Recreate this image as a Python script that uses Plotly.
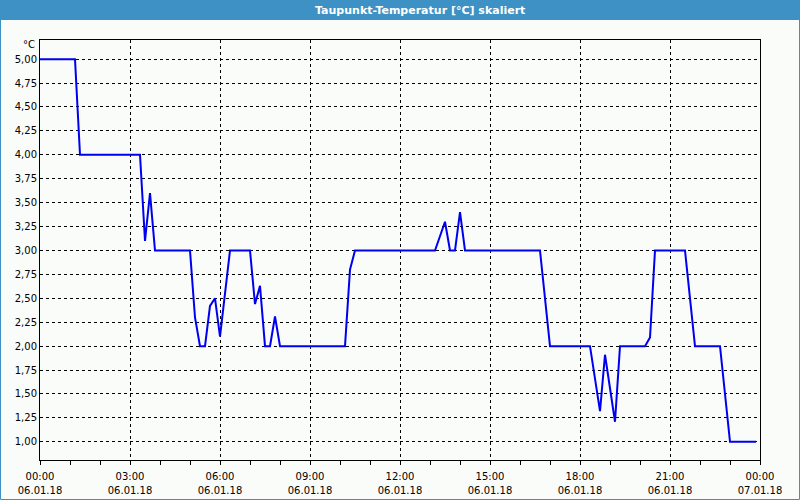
import plotly.graph_objects as go

# ---- data ----
times = ["00:00", "01:10", "01:20", "03:20", "03:30", "03:40", "03:50",
         "05:00", "05:10", "05:20", "05:30", "05:40", "05:50", "06:00", "06:20",
         "07:00", "07:10", "07:20", "07:30", "07:40", "07:50", "08:00",
         "10:10", "10:20", "10:30", "13:10", "13:30", "13:40", "13:50", "14:00", "14:10",
         "16:40", "17:00", "18:20", "18:40", "18:50", "19:10", "19:20",
         "20:10", "20:20", "20:30", "21:30", "21:50", "22:40", "23:00", "23:52"]
values = [5.0, 5.0, 4.0, 4.0, 3.1, 3.6, 3.0,
          3.0, 2.3, 2.0, 2.0, 2.42, 2.5, 2.1, 3.0,
          3.0, 2.44, 2.63, 2.0, 2.0, 2.31, 2.0,
          2.0, 2.8, 3.0, 3.0, 3.3, 3.0, 3.0, 3.4, 3.0,
          3.0, 2.0, 2.0, 1.32, 1.91, 1.21, 2.0,
          2.0, 2.09, 3.0, 3.0, 2.0, 2.0, 1.0, 1.0]
day = "2018-01-06"

tick_hours = ["00:00", "03:00", "06:00", "09:00", "12:00", "15:00", "18:00", "21:00", "00:00"]
tick_dates = ["06.01.18"] * 8 + ["07.01.18"]
tick_iso = [f"{day} {h}" for h in tick_hours[:-1]] + ["2018-01-07 00:00"]

title_text = "Taupunkt-Temperatur [°C] skaliert"
unit_text = "°C"

x = [f"{day} {t}:00" for t in times]
x_range = [f"{day} 00:00", "2018-01-07 00:00"]

BLUE_BAR = "#3d91c4"
BG = "#fafcfa"
FONT = "DejaVu Sans"

fig = go.Figure()
fig.add_trace(go.Scatter(x=x, y=values, mode="lines",
                         line=dict(color="#0000f0", width=2), hoverinfo="skip"))
# invisible helper trace so the date-row axis is drawn
fig.add_trace(go.Scatter(x=x_range, y=[values[0], values[0]], xaxis="x2", mode="lines",
                         line=dict(width=0), opacity=0, hoverinfo="skip"))

W, H = 800, 500
L, R, T, B = 40, 40, 40, 40
pw, ph = W - L - R, H - T - B

def px_x(p):
    return (p - L) / pw

def px_y(p):
    return (H - B - p) / ph

fig.update_layout(
    width=W, height=H,
    margin=dict(l=L, r=R, t=T, b=B, pad=0, autoexpand=False),
    paper_bgcolor=BG, plot_bgcolor=BG,
    showlegend=False,
    separators=",.",
    font=dict(family=FONT, size=10, color="black"),
    xaxis=dict(
        type="date", range=x_range, automargin=False,
        tickvals=tick_iso, ticktext=tick_hours,
        ticks="outside", ticklen=4, tickcolor="black", tickwidth=1,
        ticklabelstandoff=3,
        minor=dict(dtick=3600000, ticks="outside", ticklen=4, tickcolor="black", showgrid=False),
        showgrid=True, gridcolor="black", gridwidth=1, griddash="3px,3px",
        showline=True, linecolor="black", linewidth=1, mirror=True,
        zeroline=False, tickangle=0,
    ),
    xaxis2=dict(
        type="date", range=x_range, automargin=False, overlaying="x", side="bottom",
        tickvals=tick_iso, ticktext=tick_dates,
        ticks="", ticklabelstandoff=23,
        showgrid=False, showline=False, zeroline=False, tickangle=0,
    ),
    yaxis=dict(
        range=[0.81, 5.2], automargin=False,
        tick0=1.0, dtick=0.25, tickformat=".2f",
        ticks="",
        showgrid=True, gridcolor="black", gridwidth=1, griddash="3px,3px",
        showline=True, linecolor="black", linewidth=1, mirror=True,
        zeroline=False,
    ),
    shapes=[
        dict(type="rect", xref="paper", yref="paper",
             x0=px_x(0), x1=px_x(W), y0=px_y(0), y1=px_y(20),
             fillcolor=BLUE_BAR, line=dict(width=0), layer="above"),
        dict(type="rect", xref="paper", yref="paper",
             x0=px_x(0.5), x1=px_x(W - 0.5), y0=px_y(0.5), y1=px_y(H - 0.5),
             fillcolor="rgba(0,0,0,0)", line=dict(color=BLUE_BAR, width=1), layer="above"),
    ],
    annotations=[
        dict(text=f"<b>{title_text}</b>", xref="paper", yref="paper",
             x=px_x(420), y=px_y(10), xanchor="center", yanchor="middle",
             showarrow=False, font=dict(family=FONT, size=11, color="white")),
        dict(text=unit_text, xref="paper", yref="paper",
             x=px_x(37), y=px_y(45), xanchor="right", yanchor="middle",
             showarrow=False, font=dict(family=FONT, size=10, color="black")),
    ],
)

fig.write_html("out.html")
